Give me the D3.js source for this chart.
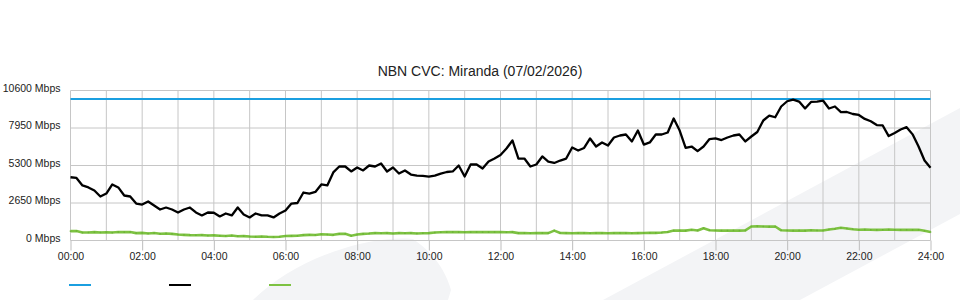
<!DOCTYPE html>
<html>
<head>
<meta charset="utf-8">
<title>NBN CVC: Miranda</title>
<script src="https://cdn.jsdelivr.net/npm/d3@7"></script>
<style>
    html, body { margin: 0; padding: 0; background: #fff; }
    svg { display: block; font-family: "Liberation Sans", Arial, sans-serif; }
    .grid line { stroke: #c6c6c6; stroke-width: 1; }
    .axis text { fill: #222; font-size: 10.5px; }
    .axis line { stroke: #bdbdbd; }
    .axis .domain { display: none; }
    .title { fill: #222; font-size: 14px; }
</style>
</head>
<body>
<svg id="chart" width="960" height="300"></svg>
<script>
// --- 1. data (10 minute samples, 00:00 -> 24:00) ---
const stepMinutes = 10;

const capacity = [10000, 10000]; // CVC limit, flat for the day (00:00 and 24:00)

const usage = [
    4470, 4420, 3890, 3750, 3530, 3110, 3320, 3960, 3750, 3180,
    3110, 2610, 2540, 2760, 2470, 2190, 2330, 2190, 1980, 2190,
    2330, 1980, 1770, 1980, 1960, 1700, 1910, 1770, 2330, 1840,
    1630, 1910, 1770, 1770, 1630, 1910, 2120, 2610, 2650, 3390,
    3320, 3430, 3960, 3890, 4810, 5230, 5230, 4880, 5160, 4950,
    5300, 5230, 5440, 4880, 5160, 4730, 4950, 4660, 4590, 4560,
    4520, 4590, 4730, 4840, 4880, 5300, 4520, 5370, 5370, 5090,
    5580, 5790, 6040, 6500, 7070, 5790, 5790, 5230, 5370, 5940,
    5580, 5480, 5650, 5790, 6570, 6360, 6540, 7210, 6640, 6930,
    6710, 7280, 7420, 7490, 7000, 7770, 6780, 6930, 7490, 7490,
    7630, 8620, 7770, 6540, 6640, 6320, 6640, 7170, 7210, 7100,
    7280, 7420, 7490, 7000, 7350, 7670, 8480, 8830, 8710, 9470,
    9840, 9960, 9820, 9330, 9790, 9820, 9890, 9330, 9470, 9070,
    9080, 8940, 8870, 8590, 8430, 8160, 8130, 7380, 7600, 7840,
    8010, 7500, 6640, 5650, 5140
];

const upload = [
    660, 670, 560, 570, 590, 570, 580, 560, 600, 590,
    600, 520, 540, 500, 530, 480, 500, 470, 420, 400,
    380, 370, 380, 350, 360, 340, 320, 350, 300, 310,
    280, 270, 280, 260, 250, 270, 320, 330, 340, 380,
    400, 390, 440, 420, 400, 470, 470, 340, 420, 470,
    490, 520, 510, 520, 500, 520, 510, 520, 500, 510,
    520, 560, 580, 590, 600, 590, 580, 590, 600, 590,
    590, 600, 590, 580, 590, 520, 520, 510, 520, 530,
    520, 700, 530, 520, 510, 520, 530, 510, 520, 520,
    510, 520, 530, 520, 510, 520, 530, 540, 540, 560,
    600, 700, 710, 700, 760, 710, 870, 720, 710, 700,
    700, 710, 700, 710, 990, 1000, 990, 980, 990, 720,
    710, 700, 710, 700, 720, 710, 710, 780, 830, 900,
    850, 800, 760, 770, 760, 750, 760, 770, 760, 750,
    760, 750, 760, 690, 600
];

const yTicks = [0, 2650, 5300, 7950, 10600];
const xTickHours = [0, 2, 4, 6, 8, 10, 12, 14, 16, 18, 20, 22, 24];
const xTickLabels = ["00:00", "02:00", "04:00", "06:00", "08:00", "10:00", "12:00",
                     "14:00", "16:00", "18:00", "20:00", "22:00", "24:00"];

const chartTitle = "NBN CVC: Miranda (07/02/2026)";

const series = [
    { name: "", color: "#1b9fe0", width: 2, values: capacity, hours: [0, 24] },
    { name: "", color: "#000000", width: 2.3, values: usage },
    { name: "", color: "#7dc242", width: 2.6, dots: "#6cb336", values: upload }
];

// --- 2. setup ---
const svg = d3.select("#chart");
const width = 960;
const plot = { left: 70.5, right: 930.5, top: 90.5, bottom: 240.5 };

const x = d3.scaleLinear().domain([0, 24]).range([plot.left, plot.right]);
const y = d3.scaleLinear().domain([0, 10600]).range([plot.bottom, plot.top]);

// background decoration (light grey swooshes)
const bg = svg.append("g").attr("fill", "#f3f4f6");
bg.append("path")
    .attr("d", "M253,300 C275,278 310,258 345,248 C365,242 390,237 413,239 C430,250 445,268 451,290 L448,300 Z");
bg.append("path")
    .attr("d", "M603,300 L960,108 L960,214 L800,300 Z");

// --- 3. grid ---
const grid = svg.append("g").attr("class", "grid");
grid.selectAll(".vgrid")
    .data(d3.range(0, 25))
    .enter().append("line")
    .attr("x1", d => x(d)).attr("x2", d => x(d))
    .attr("y1", plot.top).attr("y2", plot.bottom);
grid.selectAll(".hgrid")
    .data(yTicks)
    .enter().append("line")
    .attr("x1", plot.left).attr("x2", plot.right)
    .attr("y1", d => y(d)).attr("y2", d => y(d));

// --- 4. axes ---
svg.append("g")
    .attr("class", "axis")
    .attr("transform", `translate(0,${plot.bottom})`)
    .call(d3.axisBottom(x)
        .tickValues(xTickHours)
        .tickFormat((d, i) => xTickLabels[i])
        .tickSize(10)
        .tickPadding(2));

const yAxis = svg.append("g")
    .attr("class", "axis")
    .attr("transform", `translate(${plot.left},0)`)
    .call(d3.axisLeft(y)
        .tickValues(yTicks)
        .tickFormat(d => `${d} Mbps`)
        .tickSize(0)
        .tickPadding(10));
yAxis.selectAll("text").attr("dy", "0.08em");

// --- 5. lines ---
const line = d3.line()
    .x(d => x(d.h))
    .y(d => y(d.v));

series.forEach(s => {
    const pts = s.values.map((v, i) => ({
        h: s.hours ? s.hours[i] : i * stepMinutes / 60,
        v: v
    }));
    svg.append("path")
        .datum(pts)
        .attr("fill", "none")
        .attr("stroke", s.color)
        .attr("stroke-width", s.width)
        .attr("stroke-linejoin", "round")
        .attr("d", line);

    // the upload series has small point markers
    if (s.dots) {
        svg.append("g")
            .selectAll("rect")
            .data(pts)
            .enter().append("rect")
            .attr("x", d => x(d.h) - 0.75)
            .attr("y", d => y(d.v) - 0.75)
            .attr("width", 1.5)
            .attr("height", 1.5)
            .attr("fill", s.dots);
    }
});

// --- 6. title & legend ---
svg.append("text")
    .attr("class", "title")
    .attr("x", width / 2)
    .attr("y", 76)
    .attr("text-anchor", "middle")
    .text(chartTitle);

const legend = svg.append("g").attr("transform", "translate(69,285)");
series.forEach((s, i) => {
    legend.append("line")
        .attr("x1", i * 100).attr("x2", i * 100 + 22)
        .attr("y1", 0).attr("y2", 0)
        .attr("stroke", s.color)
        .attr("stroke-width", 2);
    legend.append("text")
        .attr("x", i * 100 + 28).attr("y", 4)
        .style("font-size", "10.5px")
        .text(s.name);
});
</script>
</body>
</html>
